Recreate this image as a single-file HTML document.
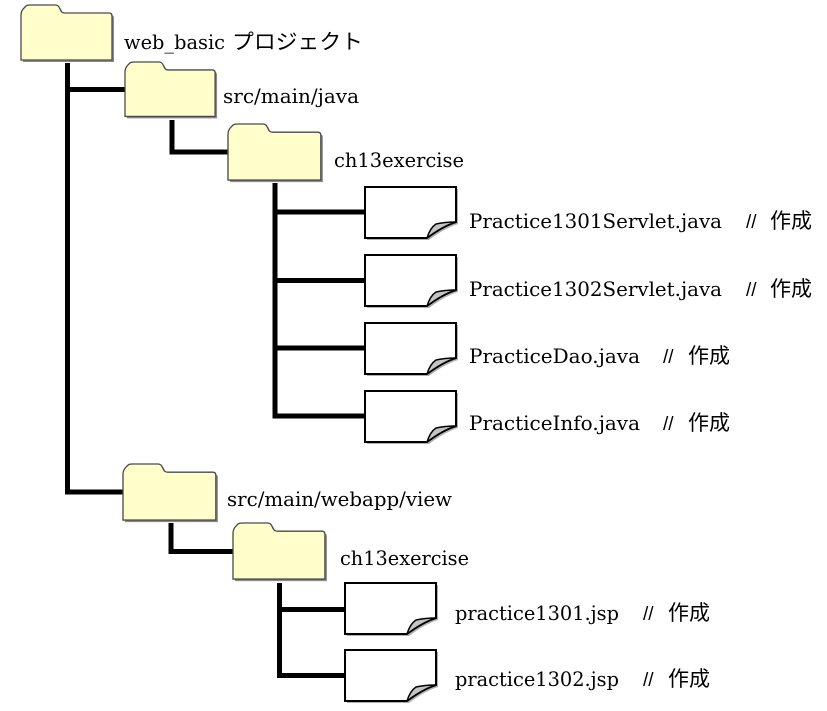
<!DOCTYPE html>
<html>
<head>
<meta charset="utf-8">
<style>
html,body{margin:0;padding:0;background:#fff;}
svg{display:block;}
.t{font-family:"DejaVu Serif","Liberation Serif",serif;font-size:20px;fill:#000;}
.j{font-family:"Liberation Sans","Noto Sans CJK JP",sans-serif;font-size:21px;fill:#000;}
.s{font-family:"Liberation Sans",sans-serif;font-size:19px;fill:#000;}
</style>
</head>
<body>
<svg width="827" height="711" viewBox="0 0 827 711" xmlns="http://www.w3.org/2000/svg">
<defs>
  <path id="fold" d="M0,55 L0,10 Q0,6 3,3 L5,1 Q6,0 9,0 L34,0 Q37,0 38,2 L40,6 Q41,8 44,8 L88,8 Q91,8 91,11 L91,55 Z"/>
  <g id="folder">
    <use href="#fold" transform="translate(2,2)" fill="#8a8a8a"/>
    <use href="#fold" fill="#ffffcc" stroke="#4a4a4a" stroke-width="1.3"/>
  </g>
  <g id="file">
    <path d="M2,2 L93,2 L93,37 Q80,41 64,53 L2,53 Z" fill="#b0b0b0"/>
    <path d="M0,0 L91,0 L91,35 Q78,39 62,51 L0,51 Z" fill="#fff" stroke="#000" stroke-width="2"/>
    <path d="M62,51 Q65,41 71,37 Q80,35 91,35 Q78,39 62,51 Z" fill="#c4c4c4" stroke="#000" stroke-width="1.5" stroke-linejoin="round"/>
  </g>
</defs>

<!-- connector lines -->
<g stroke="#000" stroke-width="5" fill="none" stroke-linecap="butt" stroke-linejoin="miter">
  <path d="M67.5,63 L67.5,492 L123,492"/>
  <path d="M67.5,89.5 L126,89.5"/>
  <path d="M172,120 L172,152 L228,152"/>
  <path d="M275,183 L275,416 L365,416"/>
  <path d="M275,212 L365,212"/>
  <path d="M275,280.5 L365,280.5"/>
  <path d="M275,348 L365,348"/>
  <path d="M171,523 L171,551.5 L233,551.5"/>
  <path d="M279.5,583 L279.5,675.5 L345,675.5"/>
  <path d="M279.5,609.5 L345,609.5"/>
</g>

<!-- folders -->
<use href="#folder" x="21" y="5"/>
<use href="#folder" transform="translate(125,62) scale(0.99,0.99)"/>
<use href="#folder" transform="translate(228,124) scale(1.02,1.02)"/>
<use href="#folder" transform="translate(123,464) scale(1.02,1.02)"/>
<use href="#folder" transform="translate(233,523) scale(1.01,1.02)"/>

<!-- files -->
<use href="#file" x="365" y="187"/>
<use href="#file" x="365" y="255"/>
<use href="#file" x="365" y="323"/>
<use href="#file" x="365" y="391"/>
<use href="#file" x="345" y="583"/>
<use href="#file" x="345" y="650"/>

<!-- labels -->
<text class="t" x="124" y="49" textLength="101" lengthAdjust="spacingAndGlyphs">web_basic</text>
<text class="j" x="232" y="49" textLength="131" lengthAdjust="spacingAndGlyphs">プロジェクト</text>

<text class="t" x="223" y="103" textLength="136" lengthAdjust="spacingAndGlyphs">src/main/java</text>
<text class="t" x="334" y="167" textLength="130" lengthAdjust="spacingAndGlyphs">ch13exercise</text>

<text class="t" x="469" y="228" textLength="253" lengthAdjust="spacingAndGlyphs">Practice1301Servlet.java</text>
<text class="s" x="746" y="228">//</text>
<text class="j" x="770" y="228">作成</text>

<text class="t" x="469" y="296" textLength="253" lengthAdjust="spacingAndGlyphs">Practice1302Servlet.java</text>
<text class="s" x="746" y="296">//</text>
<text class="j" x="770" y="296">作成</text>

<text class="t" x="469" y="363" textLength="171" lengthAdjust="spacingAndGlyphs">PracticeDao.java</text>
<text class="s" x="663" y="363">//</text>
<text class="j" x="688" y="363">作成</text>

<text class="t" x="469" y="430" textLength="171" lengthAdjust="spacingAndGlyphs">PracticeInfo.java</text>
<text class="s" x="663" y="430">//</text>
<text class="j" x="688" y="430">作成</text>

<text class="t" x="227" y="506" textLength="225" lengthAdjust="spacingAndGlyphs">src/main/webapp/view</text>
<text class="t" x="340" y="565" textLength="129" lengthAdjust="spacingAndGlyphs">ch13exercise</text>

<text class="t" x="455" y="620" textLength="164" lengthAdjust="spacingAndGlyphs">practice1301.jsp</text>
<text class="s" x="643" y="620">//</text>
<text class="j" x="668" y="620">作成</text>

<text class="t" x="455" y="686" textLength="164" lengthAdjust="spacingAndGlyphs">practice1302.jsp</text>
<text class="s" x="643" y="686">//</text>
<text class="j" x="668" y="686">作成</text>
</svg>
</body>
</html>
